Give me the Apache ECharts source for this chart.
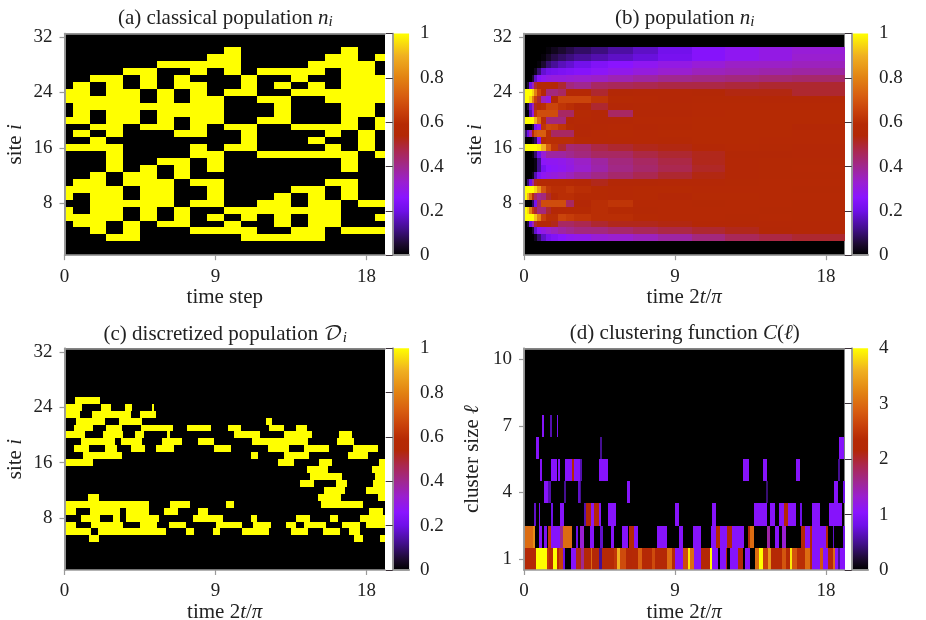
<!DOCTYPE html>
<html><head><meta charset="utf-8">
<style>html,body{margin:0;padding:0;background:#fff}#c{width:926px;height:620px}</style>
<script src="https://cdn.jsdelivr.net/npm/echarts@6/dist/echarts.min.js"></script>
</head><body><div id="c"></div>
<script>
// colour scale
const paletteStops = [[0,'#000000'],[0.05,'#1c0a30'],[0.12,'#420f8c'],[0.2,'#6f10e8'],[0.26,'#8a14ff'],[0.33,'#9a1fd0'],[0.4,'#a0288f'],[0.47,'#ab2850'],[0.54,'#b32806'],[0.59,'#b62a04'],[0.65,'#c8400a'],[0.72,'#d85e10'],[0.8,'#e28212'],[0.9,'#f0b020'],[1,'#ffff00']];

// (a) classical population: yellow columns per site
const classicalSites = {
30:[10,17],29:[9,10,16,17,19],28:[6,7,8,9,10,15,16,17,18],27:[4,5,8,10,12,13,14,15,17,18],
26:[2,3,5,7,11,14,17,18,19],25:[1,3,5,7,8,11,13,15,17,18,19],24:[0,1,3,4,6,8,10,11,14,15,16,17,18,19],
23:[0,1,2,3,4,6,8,9,12,13,16,17,18,19],22:[1,2,3,4,5,6,7,8,9,13,17,18],21:[1,3,4,6,7,8,9,13,17,18],
20:[0,1,3,4,6,8,9,12,13,17,19],19:[2,3,5,6,8,10,11,14,15,16,17,19],18:[1,3,7,8,11,16,18],17:[2,11,15,18],
16:[0,1,2,3,8,10,11,16,18],15:[3,8,9,12,13,14,15,16,17,19],14:[3,6,7,9,17],13:[3,5,7,9,17],12:[2,4,5,7],
11:[1,2,4,5,6,8,9,16,17],10:[0,1,2,3,5,6,9,14,15,17],9:[0,2,3,5,6,9,13,15,17],8:[2,3,4,5,6,8,9,12,13,15,16,18,19],
7:[0,2,3,5,7,10,11,12,13,14,15,16],6:[0,1,2,3,5,7,9,11,13,15,16,19],5:[1,2,4,6,7,10,13,15,16],
4:[2,4,8,9,10,11,14,15,17,18,19],3:[3,4,11,12,13,14,15]};

// (b) population: time column edges and values per site
const popEdges = [0,0.15,0.3,0.45,0.6,0.8,1,1.3,1.6,2,2.5,3,4,5,6.5,8,10,12,14,16,19.1];
const popSites = {
30:[0,0,0,0,0,0,0,.01,.03,.05,.07,.09,.11,.14,.17,.21,.25,.28,.3,.32],
29:[0,0,0,0,0,0,.01,.04,.07,.09,.11,.13,.15,.17,.19,.22,.25,.28,.3,.33],
28:[0,0,0,0,0,.01,.05,.1,.13,.16,.18,.21,.24,.26,.28,.3,.32,.34,.34,.35],
27:[0,0,0,0,.03,.1,.18,.21,.22,.23,.24,.25,.27,.29,.31,.33,.35,.36,.37,.38],
26:[0,0,0,.05,.17,.25,.28,.3,.31,.31,.32,.33,.34,.36,.38,.4,.41,.42,.43,.44],
25:[0,.05,.2,.35,.5,.55,.57,.57,.55,.5,.42,.4,.45,.46,.47,.48,.48,.49,.5,.5],
24:[1,1,1,.95,.8,.65,.55,.42,.42,.45,.57,.57,.5,.54,.55,.55,.54,.53,.53,.5],
23:[1,1,.95,.8,.65,.5,.35,.3,.55,.66,.66,.66,.62,.58,.57,.55,.56,.56,.55,.55],
22:[0,.05,.18,.35,.52,.58,.6,.66,.66,.62,.6,.55,.5,.55,.56,.56,.57,.57,.57,.57],
21:[0,0,.15,.3,.62,.68,.68,.68,.68,.45,.45,.58,.55,.45,.55,.55,.57,.58,.58,.58],
20:[1,1,1,1,.9,.75,.6,.42,.42,.42,.55,.57,.55,.55,.57,.57,.58,.58,.58,.58],
19:[0,0,0,.05,.22,.28,.62,.67,.66,.62,.58,.55,.56,.57,.55,.56,.58,.58,.58,.55],
18:[.1,.2,.35,.55,.7,.72,.72,.6,.45,.45,.45,.55,.57,.58,.57,.58,.58,.58,.58,.57],
17:[0,0,0,.03,.08,.25,.58,.6,.6,.6,.6,.58,.57,.57,.57,.56,.58,.58,.57,.57],
16:[1,1,1,1,1,.98,.9,.72,.62,.5,.43,.44,.48,.5,.52,.53,.55,.57,.56,.55],
15:[0,0,0,.02,.1,.2,.32,.38,.38,.38,.4,.42,.45,.45,.48,.5,.52,.54,.54,.55],
14:[0,0,0,0,.02,.12,.27,.28,.28,.29,.31,.34,.38,.42,.45,.48,.52,.55,.56,.56],
13:[0,0,0,0,.02,.12,.22,.26,.27,.28,.3,.33,.37,.41,.44,.47,.51,.55,.56,.57],
12:[0,0,0,.03,.15,.24,.28,.3,.31,.33,.35,.38,.41,.44,.47,.5,.53,.55,.56,.56],
11:[0,.1,.2,.38,.52,.57,.58,.58,.58,.58,.57,.55,.52,.54,.54,.55,.55,.56,.57,.57],
10:[1,1,1,1,.95,.85,.7,.62,.6,.6,.62,.6,.58,.57,.58,.58,.57,.57,.57,.56],
9:[1,.9,.75,.6,.45,.4,.42,.5,.57,.6,.6,.58,.58,.57,.58,.55,.58,.58,.57,.57],
8:[0,0,0,.08,.22,.45,.68,.68,.68,.68,.45,.55,.6,.62,.57,.57,.56,.57,.57,.56],
7:[1,.95,.8,.65,.5,.42,.42,.5,.55,.57,.58,.58,.6,.58,.56,.57,.57,.57,.56,.56],
6:[1,1,1,1,.92,.8,.65,.6,.6,.66,.64,.62,.6,.6,.58,.57,.57,.56,.57,.56],
5:[0,.05,.2,.35,.5,.55,.55,.56,.52,.45,.45,.47,.5,.52,.52,.53,.55,.55,.55,.55],
4:[0,0,0,.05,.18,.27,.3,.33,.35,.38,.4,.42,.42,.44,.46,.48,.5,.52,.54,.55],
3:[0,0,0,0,.03,.1,.17,.22,.24,.26,.28,.29,.32,.33,.35,.38,.42,.46,.48,.5]};

// (c) discretized population: occupied time spans per site
const discretizedRuns = {
25:[[.64,2.09]],
24:[[0,1.06],[2.15,2.79],[3.63,4.04],[5.2,5.32]],
23:[[0,.9],[1.63,3.98],[4.52,5.48]],
22:[[.7,2.39],[3.25,4.62],[12,12.34]],
21:[[.56,1.69],[2.49,3.43],[4.58,6.47],[7.29,8.76],[9.75,10.51],[12.18,13.07],[13.77,14.47]],
20:[[0,1.2],[2.29,3.49],[4.18,4.74],[6.13,6.27],[10.09,11.64],[13.09,14.77],[16.38,17.11]],
19:[[.96,2.99],[3.39,4.62],[5.84,6.99],[7.97,8.9],[11.18,14.53],[16.26,17.26]],
18:[[.56,1.45],[2.43,3.13],[3.94,4.82],[5.48,6.55],[8.9,9.91],[12.14,13.37],[14.27,15.74],[17.2,18.7]],
17:[[1.1,3.45],[11.1,11.54],[13.09,14.59],[16.87,18.09]],
16:[[0,1.69],[12.74,13.69],[15.19,15.92],[18.77,19.1]],
15:[[14.47,15.72],[18.33,19.1]],
14:[[14.65,16.56],[18.49,19.1]],
13:[[14.03,14.89],[16.18,16.86],[18.41,19.1]],
12:[[15.48,16.72],[17.97,19.1]],
11:[[1.39,2.03],[15.1,16.46],[18.71,19.1]],
10:[[0,5.02],[6.27,7.49],[9.63,10.09],[15.28,17.77]],
9:[[0,.66],[1.53,3.29],[3.69,5.02],[5.92,6.79],[7.93,8.53],[18.15,19]],
8:[[.96,2.13],[2.89,3.29],[3.69,5.64],[7.67,9.46],[11.1,11.45],[13.81,14.66],[15.84,16.29],[17.63,19.1]],
7:[[0,.66],[1.59,3.49],[4.48,5.54],[6.22,7.23],[9.02,10.55],[11.22,12.3],[13.19,13.77],[14.29,15.6],[16.56,17.63],[17.97,19.1]],
6:[[0,1.59],[1.99,6.04],[7.23,7.73],[8.82,9.26],[10.55,12.18],[13.47,14.49],[15.4,16.42],[16.98,17.63]],
5:[[1.45,2.05],[17.27,17.81],[18.79,19.1]]};

// (d) clustering function: [start, end, value] per cluster size
const clusterRuns = {
7:[[1.08,1.21,1],[1.55,1.67,.6],[1.97,2.03,.9]],
6:[[.72,.9,1],[4.54,4.66,.5],[18.77,19.08,1]],
5:[[.96,1.06,1],[1.63,1.99,1],[2.03,2.15,1],[2.47,2.85,1],[2.85,2.99,2.2],[2.99,3.31,1],[3.31,3.45,.6],[4.44,5.02,1],[13.07,13.41,1],[14.27,14.49,1],[16.2,16.44,1],[18.71,18.81,.5]],
4:[[1.21,1.45,1],[1.45,1.61,.6],[2.39,2.49,.5],[3.23,3.31,.7],[3.31,3.41,.5],[6.16,6.31,1],[14.45,14.57,.4],[18.49,18.71,1],[19,19.1,.8]],
3:[[.6,.72,.7],[.9,.96,.9],[1.63,1.73,.8],[2.15,2.41,1],[3.59,3.69,.6],[3.69,4.02,2.2],[4.02,4.18,1.1],[4.18,4.44,2.2],[4.44,4.56,1],[5.02,5.5,1],[9.02,9.26,1],[11.22,11.42,1],[13.73,14.49,1],[14.65,14.93,1],[15.17,15.49,1],[15.49,15.74,2.2],[15.74,16.18,1],[16.44,16.58,.8],[17.19,17.63,1],[18.15,18.98,1]],
2:[[0,.52,3],[.52,.68,3.3],[.9,1.08,1],[1.21,1.35,.9],[1.43,1.59,2.5],[1.59,2.15,1],[2.15,2.31,1.6],[2.31,2.85,3],[3.07,3.23,.8],[3.35,3.55,1.3],[3.94,4.18,1],[4.5,4.7,.7],[5.2,5.36,1],[5.86,6.18,1],[6.27,6.53,2.3],[6.53,6.81,1],[7.95,8.55,1],[9.26,9.46,1],[10.09,10.53,1],[11.17,11.42,1],[11.42,11.68,2.3],[11.68,12.12,1],[12.12,12.38,2.2],[12.38,13.1,1],[13.37,13.47,2.2],[13.47,13.71,3],[14.47,14.65,1.5],[14.93,15.17,1],[15.38,15.62,1.3],[16.51,16.76,2.3],[16.76,17.07,1],[17.07,17.17,2.2],[17.17,17.97,1],[17.97,18.13,2.2],[18.39,18.49,.7],[18.99,19.1,.8]],
1:[[0,.72,2.2],[.72,1.39,4],[1.39,1.51,2.5],[1.51,1.71,2.3],[1.71,1.95,4],[1.95,2.07,2.3],[2.07,2.31,2.6],[2.31,2.43,.8],[2.83,3.11,1],[3.11,3.39,2.1],[3.39,3.59,1.6],[3.59,3.98,2.2],[3.98,4.06,3],[4.06,4.46,2.2],[4.46,4.62,.5],[4.62,5.34,2.3],[5.34,5.54,2.5],[5.54,5.74,3.6],[5.74,6.06,2.7],[6.06,6.45,2.2],[6.45,6.81,2.3],[6.81,7.01,2.9],[7.01,7.63,2.3],[7.63,7.79,2.7],[7.79,8.53,2.2],[8.53,8.82,3],[8.82,9.02,2.3],[9.02,9.47,1],[9.47,9.75,2.7],[9.75,9.91,3.9],[9.91,10.11,3],[10.11,10.55,1],[10.55,11.1,2.2],[11.1,11.19,4],[11.19,11.56,1],[11.68,12.02,1],[12.02,12.12,2.2],[12.3,12.74,1],[12.74,13.07,2.2],[13.19,13.45,1],[13.79,14.03,3],[14.03,14.27,4],[14.27,14.53,2.6],[14.53,14.73,3.4],[14.73,15.38,2.3],[15.38,15.62,2.8],[15.62,15.88,2.3],[15.88,15.98,3.9],[15.98,16.28,2.8],[16.28,16.74,2.4],[16.74,17.03,3],[17.03,17.17,2.3],[17.17,17.63,1],[17.63,17.83,2.8],[17.83,18.11,1],[18.11,18.43,2.3],[18.43,18.51,3],[18.51,18.71,1],[18.71,18.81,.5],[18.81,19.1,1]]};

// tick labels and ranges
const timeTicks = [0,9,18];
const siteTicks = [8,16,24,32];
const clusterTicks = [1,4,7,10];
const timeMax = 19.1;

const SERIF = '"Liberation Serif","DejaVu Serif",serif';
const FRAME = '#9a9a9a', INK = '#222222';
const richMath = {
  m:{fontFamily:SERIF,fontStyle:'italic',color:INK,fontSize:21},
  s:{fontFamily:SERIF,fontStyle:'italic',color:INK,fontSize:15,padding:[8,0,0,0]},
  c:{fontFamily:'"DejaVu Math TeX Gyre","DejaVu Serif",serif',color:INK,fontSize:21}
};
const panels = [
 {l:64.5,t:33.5,w:320.5,h:221.7,title:'(a) classical population {m|n}{s|i}',xn:'time step',yn:'site {m|i}'},
 {l:524,t:33.5,w:320.5,h:221.7,title:'(b) population {m|n}{s|i}',xn:'time 2{m|t}/{m|π}',yn:'site {m|i}'},
 {l:64.5,t:348.3,w:320.5,h:221.7,title:'(c) discretized population {c|𝒟}{s|i}',xn:'time 2{m|t}/{m|π}',yn:'site {m|i}'},
 {l:524,t:348.3,w:320.5,h:221.7,title:'(d) clustering function {m|C}({m|ℓ})',xn:'time 2{m|t}/{m|π}',yn:'cluster size {m|ℓ}'}
];
const bars = [[392.7,1],[851.7,1],[392.7,1],[851.7,4]];
function rampColor(t){
  t=Math.max(0,Math.min(1,t));
  for(let i=1;i<paletteStops.length;i++){
    if(t<=paletteStops[i][0]){
      const a=paletteStops[i-1],b=paletteStops[i];
      return echarts.color.lerp((t-a[0])/(b[0]-a[0]),[a[1],b[1]]);
    }
  }
  return '#ffff00';
}
// build rectangle tables [x0,x1,y0,y1,value]
const cellsA=[];
Object.keys(classicalSites).forEach(s=>classicalSites[s].forEach(c=>{
  cellsA.push([Math.max(0,c-.5),Math.min(timeMax,c+.5),+s-.5,+s+.5,1]);
}));
const cellsB=[];
Object.keys(popSites).forEach(s=>popSites[s].forEach((v,i)=>{
  cellsB.push([popEdges[i],popEdges[i+1],+s-.5,+s+.5,v]);
}));
const cellsC=[];
Object.keys(discretizedRuns).forEach(s=>discretizedRuns[s].forEach(r=>{
  cellsC.push([r[0],r[1],+s-.5,+s+.5,1]);
}));
const cellsD=[];
Object.keys(clusterRuns).forEach(s=>clusterRuns[s].forEach(r=>{
  cellsD.push([r[0],r[1],+s-.5,+s+.5,r[2]/4]);
}));
const allCells=[cellsA,cellsB,cellsC,cellsD];

function renderCell(params,api){
  const p0=api.coord([api.value(0),api.value(3)]);
  const p1=api.coord([api.value(1),api.value(2)]);
  const x0=Math.round(p0[0]),y0=Math.round(p0[1]);
  const w=Math.max(1,Math.round(p1[0])-x0),h=Math.round(p1[1])-y0;
  return {type:'rect',shape:{x:x0,y:y0,width:w,height:h},style:{fill:rampColor(api.value(4))}};
}
function renderBar(params,api){
  const p0=api.coord([0,api.value(1)]);
  const p1=api.coord([1,api.value(0)]);
  const stops=paletteStops.map(s=>({offset:1-s[0],color:s[1]})).reverse();
  return {type:'rect',shape:{x:p0[0],y:p0[1],width:p1[0]-p0[0],height:p1[1]-p0[1]},
    style:{fill:new echarts.graphic.LinearGradient(0,0,0,1,stops)}};
}
const grid=[],xAxis=[],yAxis=[],series=[],title=[];
const lineS={show:true,lineStyle:{color:FRAME,width:1.5}};
const labS={fontFamily:SERIF,fontSize:19,color:INK};
panels.forEach((p,i)=>{
  const g=grid.length;
  grid.push({left:p.l,top:p.t,width:p.w,height:p.h,show:true,backgroundColor:'#000',borderWidth:0,outerBoundsMode:'none'});
  const yt=i===3?clusterTicks:siteTicks;
  const yMin=.5,yMax=i===3?10.5:32.5;
  xAxis.push({gridIndex:g,type:'value',min:0,max:timeMax,position:'bottom',z:10,
    axisLine:lineS,splitLine:{show:false},
    axisTick:{show:true,length:5,customValues:timeTicks,lineStyle:{color:FRAME,width:1.2}},
    axisLabel:{...labS,margin:12,customValues:timeTicks,formatter:v=>String(v)},
    name:p.xn,nameLocation:'middle',nameGap:31,nameTextStyle:{fontFamily:SERIF,fontSize:21,color:INK,rich:richMath}});
  yAxis.push({gridIndex:g,type:'value',min:yMin,max:yMax,position:'left',z:10,
    axisLine:lineS,splitLine:{show:false},
    axisTick:{show:true,length:5,customValues:yt,lineStyle:{color:FRAME,width:1.2}},
    axisLabel:{...labS,margin:12,customValues:yt,formatter:v=>String(v)},
    name:p.yn,nameLocation:'middle',nameGap:i===3?41:38.5,nameRotate:90,nameTextStyle:{fontFamily:SERIF,fontSize:21,color:INK,rich:richMath}});
  xAxis.push({gridIndex:g,type:'value',min:0,max:timeMax,position:'top',z:10,axisLine:lineS,axisTick:{show:false},axisLabel:{show:false},splitLine:{show:false}});
  yAxis.push({gridIndex:g,type:'value',min:yMin,max:yMax,position:'right',z:10,axisLine:lineS,axisTick:{show:false},axisLabel:{show:false},splitLine:{show:false}});
  series.push({type:'custom',coordinateSystem:'cartesian2d',xAxisIndex:xAxis.length-2,yAxisIndex:yAxis.length-2,
    data:allCells[i],encode:{x:[0,1],y:[2,3]},renderItem:renderCell,animation:false,silent:true,clip:true,z:2});
  title.push({text:p.title,left:p.l+p.w/2-4.5,top:i<2?p.t-32:p.t-30.5,textAlign:'center',
    textStyle:{fontFamily:SERIF,fontSize:21,fontWeight:'normal',color:INK,rich:richMath}});
  // colour bar
  const bx=bars[i][0],bm=bars[i][1];
  const gb=grid.length;
  grid.push({left:bx,top:p.t,width:16.4,height:p.h,show:false,outerBoundsMode:'none'});
  xAxis.push({gridIndex:gb,type:'value',min:0,max:1,position:'bottom',z:10,axisLine:lineS,axisTick:{show:false},axisLabel:{show:false},splitLine:{show:false}});
  xAxis.push({gridIndex:gb,type:'value',min:0,max:1,position:'top',z:10,axisLine:lineS,axisTick:{show:false},axisLabel:{show:false},splitLine:{show:false}});
  yAxis.push({gridIndex:gb,type:'value',min:0,max:bm,interval:bm===4?1:.2,position:'right',z:10,
    axisLine:lineS,splitLine:{show:false},
    axisTick:{show:true,inside:true,length:7,lineStyle:{color:'#3a3038',width:1}},
    axisLabel:{...labS,margin:11}});
  yAxis.push({gridIndex:gb,type:'value',min:0,max:bm,position:'left',z:10,axisLine:lineS,axisTick:{show:false},axisLabel:{show:false},splitLine:{show:false}});
  series.push({type:'custom',coordinateSystem:'cartesian2d',xAxisIndex:xAxis.length-2,yAxisIndex:yAxis.length-2,
    data:[[0,bm]],encode:{y:[0,1]},renderItem:renderBar,animation:false,silent:true,z:2});
});
const chart=echarts.init(document.getElementById('c'),null,{renderer:'canvas',width:926,height:620});
chart.setOption({animation:false,backgroundColor:'#fff',title,grid,xAxis,yAxis,series});
</script></body></html>
